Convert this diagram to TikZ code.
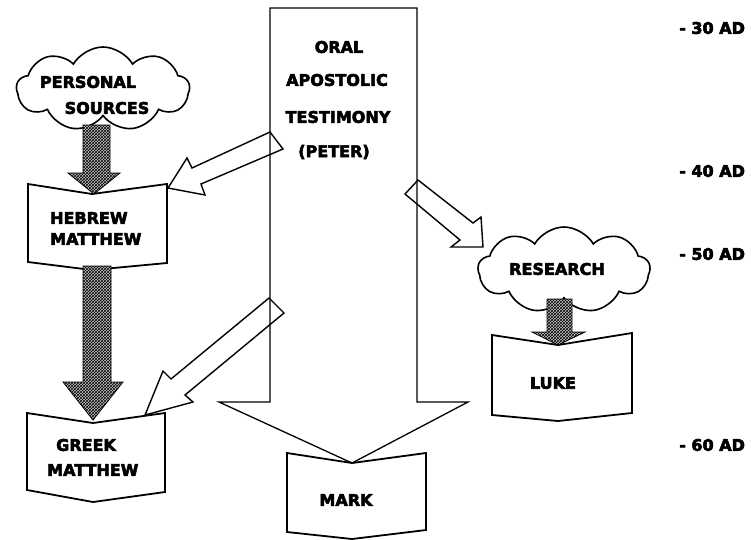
\documentclass[tikz,border=0pt]{standalone}
\usepackage{fontspec}
\newfontfamily\heavy[FakeBold=3.5]{DejaVu Sans Bold}
\usetikzlibrary{shapes.symbols,patterns}
\begin{document}
\begin{tikzpicture}[x=1pt,y=-1pt,
  lbl/.style={font=\heavy\fontsize{16}{20}\selectfont, inner sep=0},
  datelbl/.style={lbl, anchor=west},
  bigarrow/.style={draw=black, line width=1.3pt, line join=miter},
  docbox/.style={draw=black, line width=1.8pt, fill=white, line join=miter},
  hollow/.style={draw=black, line width=1.4pt, line join=miter},
  hatched/.style={draw=black, line width=0.8pt, preaction={fill=gray!45},
                  pattern=crosshatch, pattern color=black},
  puff/.style={cloud, draw=black, line width=1.6pt, fill=white,
               cloud puffs=9, cloud puff arc=120, inner sep=0},
]
\useasboundingbox (0,0) rectangle (751,539);

% oral testimony: large downward arrow
\draw[bigarrow] (270,8) -- (417,8) -- (417,402) -- (468,402) -- (352,463)
  -- (219,402) -- (270,402) -- cycle;

% hollow arrows branching off the oral testimony
\draw[hollow] (270,132) -- (192,168) -- (187,158) -- (168,188) -- (205,195)
  -- (201,184) -- (283,149) -- cycle;
\draw[hollow] (269,298) -- (171,379) -- (163,371) -- (145,415) -- (193,402)
  -- (185,395) -- (284,313) -- cycle;
\draw[hollow] (418,180) -- (473,223) -- (481,217) -- (483,247) -- (451,247)
  -- (460,240) -- (405,194) -- cycle;

% gospel documents
\draw[docbox] (28,184) -- (92,194) -- (167,184) -- (167,263) -- (92,270)
  -- (28,262) -- cycle;
\draw[docbox] (27,413) -- (93,423) -- (165,413) -- (165,492) -- (93,502)
  -- (27,490) -- cycle;
\draw[docbox] (287,453) -- (352,463) -- (426,453) -- (426,530) -- (352,539)
  -- (287,532) -- cycle;
\draw[docbox] (492,335) -- (558,345) -- (632,333) -- (632,413) -- (558,421)
  -- (492,415) -- cycle;

% sources
\node[puff, minimum width=173pt, minimum height=84pt] (personal) at (103,89) {};
\node[puff, minimum width=172pt, minimum height=86pt] (research) at (564,270) {};

% patterned flow arrows
\draw[hatched] (83,125) -- (110,125) -- (110,173) -- (120,173) -- (94,194)
  -- (68,173) -- (83,173) -- cycle;
\draw[hatched] (83,266) -- (111,266) -- (111,382) -- (123,382) -- (93,420)
  -- (63,382) -- (83,382) -- cycle;
\draw[hatched] (547,299) -- (572,299) -- (572,332) -- (585,332) -- (558,345)
  -- (532,332) -- (547,332) -- cycle;

% labels
\node[lbl] (lblpersonal) at (88,82) {PERSONAL};
\node[lbl] (lblsources) at (107,108) {SOURCES};
\node[lbl] (lbloral) at (339,47) {ORAL};
\node[lbl] (lblapostolic) at (337,80) {APOSTOLIC};
\node[lbl] (lbltestimony) at (338,117) {TESTIMONY};
\node[lbl] (lblpeter) at (334,152) {(PETER)};
\node[lbl, anchor=west] (lblhebrew) at (50,218) {HEBREW};
\node[lbl, anchor=west] (lblmatthewA) at (50,239) {MATTHEW};
\node[lbl, anchor=west] (lblgreek) at (56,445) {GREEK};
\node[lbl, anchor=west] (lblmatthewB) at (47,470) {MATTHEW};
\node[lbl] (lblmark) at (346,500) {MARK};
\node[lbl] (lblluke) at (553,383) {LUKE};
\node[lbl] (lblresearch) at (557,269) {RESEARCH};

% timeline
\node[datelbl] (t30) at (679,28) {- 30 AD};
\node[datelbl] (t40) at (679,171) {- 40 AD};
\node[datelbl] (t50) at (679,254) {- 50 AD};
\node[datelbl] (t60) at (679,445) {- 60 AD};
\end{tikzpicture}
\end{document}
